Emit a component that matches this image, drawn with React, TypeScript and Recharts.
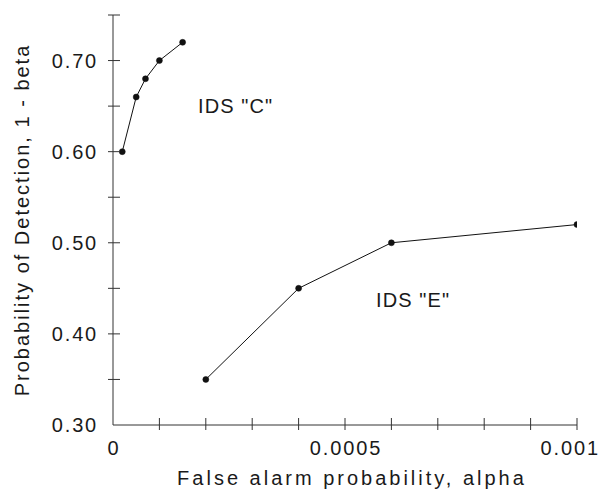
import React from "react";
import { LineChart, Line, XAxis, YAxis, Customized } from "recharts";

const cAlpha = [0.00002, 0.00005, 0.00007, 0.0001, 0.00015];
const cPd = [0.6, 0.66, 0.68, 0.7, 0.72];
const eAlpha = [0.0002, 0.0004, 0.0006, 0.001];
const ePd = [0.35, 0.45, 0.5, 0.52];

const xTicks = [0, 0.0001, 0.0002, 0.0003, 0.0004, 0.0005, 0.0006, 0.0007, 0.0008, 0.0009, 0.001];
const xTickLabels = ["0", "", "", "", "", "0.0005", "", "", "", "", "0.001"];
const yTicks = [0.3, 0.35, 0.4, 0.45, 0.5, 0.55, 0.6, 0.65, 0.7, 0.75];
const yTickLabels = ["0.30", "", "0.40", "", "0.50", "", "0.60", "", "0.70", ""];

const xTitle = "False alarm probability, alpha";
const yTitle = "Probability of Detection, 1 - beta";
const seriesCLabel = 'IDS "C"';
const seriesELabel = 'IDS "E"';

const cData = cAlpha.map((x, i) => ({ x, y: cPd[i] }));
const eData = eAlpha.map((x, i) => ({ x, y: ePd[i] }));

const FONT = "'Liberation Sans', Arial, sans-serif";
const INK = "#1a1a1a";
const AXIS = "#333";

const XTick = (props: any) => {
  const { x, y, index } = props;
  const isLast = index === xTicks.length - 1;
  return (
    <g>
      {index !== 0 && <line x1={x} x2={x} y1={y - 7} y2={y + 5} stroke={AXIS} strokeWidth={1} />}
      <text
        x={isLast ? x + 23 : x + 1}
        y={y + 30}
        textAnchor={isLast ? "end" : "middle"}
        fontFamily={FONT}
        fontSize={20}
        letterSpacing={1.9}
        fill={INK}
      >
        {xTickLabels[index]}
      </text>
    </g>
  );
};

const YTick = (props: any) => {
  const { x, y, index } = props;
  return (
    <g>
      {index !== 0 && <line x1={x - 5} x2={x + 7} y1={y} y2={y} stroke={AXIS} strokeWidth={1} />}
      <text
        x={x - 15}
        y={y + 7}
        textAnchor="end"
        fontFamily={FONT}
        fontSize={20}
        letterSpacing={1.8}
        fill={INK}
      >
        {yTickLabels[index]}
      </text>
    </g>
  );
};

const Titles = () => (
  <g fontFamily={FONT} fill={INK}>
    <text x={352} y={485} textAnchor="middle" fontSize={20} letterSpacing={3}>
      {xTitle}
    </text>
    <text
      x={0}
      y={0}
      transform="translate(29, 220) rotate(-90)"
      textAnchor="middle"
      fontSize={20}
      letterSpacing={2}
    >
      {yTitle}
    </text>
    <text x={198} y={113} fontSize={20} letterSpacing={1.1}>
      {seriesCLabel}
    </text>
    <text x={376} y={307} fontSize={20} letterSpacing={1.1}>
      {seriesELabel}
    </text>
  </g>
);

export default function App() {
  return (
    <div style={{ position: "absolute", left: 0, top: 0, width: 604, height: 493, background: "#fff" }}>
      <LineChart width={604} height={493} margin={{ top: 15, right: 27, bottom: 0, left: 0 }}>
        <XAxis
          dataKey="x"
          type="number"
          domain={[0, 0.001]}
          ticks={xTicks}
          interval={0}
          height={68}
          tickSize={0}
          tickMargin={0}
          tick={<XTick />}
          stroke={AXIS}
          allowDataOverflow
        />
        <YAxis
          type="number"
          domain={[0.3, 0.75]}
          ticks={yTicks}
          interval={0}
          width={113}
          tickSize={0}
          tickMargin={0}
          tick={<YTick />}
          stroke={AXIS}
          allowDataOverflow
        />
        <Line
          data={cData}
          dataKey="y"
          stroke="#111"
          strokeWidth={1}
          dot={{ r: 3, fill: "#111", stroke: "#111", strokeWidth: 0.5 }}
          isAnimationActive={false}
        />
        <Line
          data={eData}
          dataKey="y"
          stroke="#111"
          strokeWidth={1}
          dot={{ r: 3, fill: "#111", stroke: "#111", strokeWidth: 0.5 }}
          isAnimationActive={false}
        />
        <Customized component={Titles} />
      </LineChart>
    </div>
  );
}
